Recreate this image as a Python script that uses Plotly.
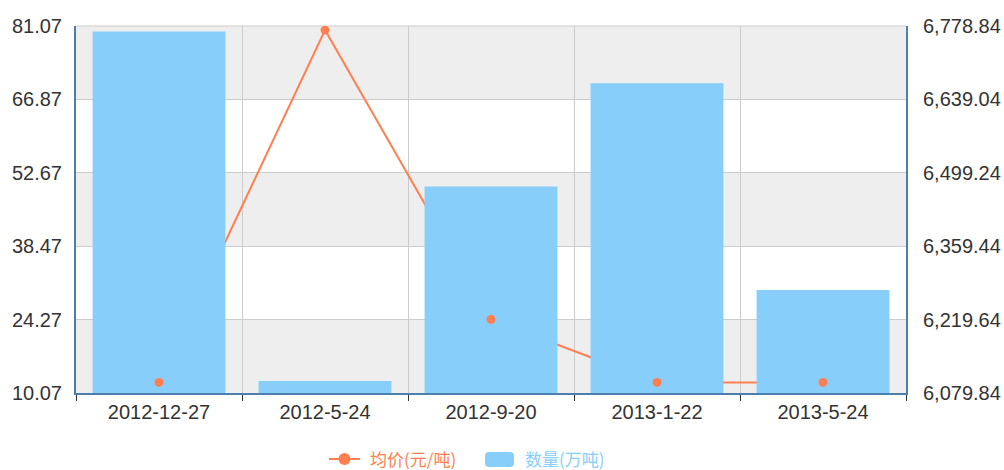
import plotly.graph_objects as go

categories = ["2012-12-27", "2012-5-24", "2012-9-20", "2013-1-22", "2013-5-24"]
price = [6100, 6771, 6220, 6100, 6100]          # 均价(元/吨), right axis
quantity = [80.0, 12.4, 50.0, 70.0, 30.0]      # 数量(万吨), left axis

left_ticks = [10.07, 24.27, 38.47, 52.67, 66.87, 81.07]
right_ticks = [6079.84, 6219.64, 6359.44, 6499.24, 6639.04, 6778.84]

LINE_C = "#ff7f50"
BAR_C = "#87cefa"
AXIS_C = "#4a7fae"
FONT = "Liberation Sans, Arial, Noto Sans CJK SC"
TICK_FONT = dict(size=20, color="#333333", family=FONT)

PW, PH = 830, 367  # plot area size in px

fig = go.Figure()

# line (behind bars) on yaxis (right side)
fig.add_trace(go.Scatter(x=categories, y=price, mode="lines", yaxis="y",
                         line=dict(color=LINE_C, width=2), name="均价(元/吨)",
                         showlegend=False, hoverinfo="skip"))
# bars on yaxis2 (left side), overlaying -> drawn above line
fig.add_trace(go.Bar(x=categories, y=quantity, yaxis="y2", marker=dict(color=BAR_C, line=dict(width=0)),
                     name="数量(万吨)", showlegend=False))
# dots on top of bars
fig.add_trace(go.Scatter(x=categories, y=price, mode="markers", yaxis="y3",
                         marker=dict(color=LINE_C, size=9), name="均价(元/吨)", showlegend=False))

# split areas (alternating bands)
shapes = []
for i in range(len(left_ticks) - 1):
    if i % 2 == 0:
        shapes.append(dict(type="rect", xref="paper", yref="y2", x0=0, x1=1,
                           y0=left_ticks[i], y1=left_ticks[i + 1],
                           fillcolor="rgba(200,200,200,0.3)", line=dict(width=0), layer="below"))
# top border
shapes.append(dict(type="line", xref="paper", yref="paper", x0=0, x1=1, y0=1, y1=1,
                   line=dict(color="#cccccc", width=1), layer="below"))

fig.update_layout(
    width=1004, height=470,
    margin=dict(l=76, r=98, t=26, b=77),
    paper_bgcolor="white", plot_bgcolor="white",
    font=dict(family=FONT, size=14, color="#333333"),
    bargap=0.2,
    showlegend=False,
    shapes=shapes,
    xaxis=dict(type="category", tickson="boundaries", showgrid=True, gridcolor="#cccccc",
               gridwidth=1, showline=True, linecolor=AXIS_C, linewidth=2,
               ticks="outside", ticklen=6, tickcolor="#333333", tickwidth=1,
               tickfont=TICK_FONT, zeroline=False, range=[-0.5, 4.5], automargin=False),
    yaxis=dict(side="right", range=[right_ticks[0], right_ticks[-1]], tickvals=right_ticks,
               tickformat=",.2f", showgrid=True, gridcolor="#cccccc", gridwidth=1,
               showline=True, linecolor=AXIS_C, linewidth=2, zeroline=False,
               ticks="", ticklabelstandoff=11, tickfont=TICK_FONT, automargin=False),
    yaxis2=dict(side="left", overlaying="y", range=[left_ticks[0], left_ticks[-1]],
                tickvals=left_ticks, tickformat=".2f", showgrid=False,
                showline=True, linecolor=AXIS_C, linewidth=2, zeroline=False,
                ticks="", ticklabelstandoff=8, tickfont=TICK_FONT, automargin=False),
    yaxis3=dict(overlaying="y", range=[right_ticks[0], right_ticks[-1]], visible=False,
                automargin=False),
)

# custom legend (coordinates in paper units of the plot area)
def px_x(x):  # page x -> paper
    return (x - 76) / PW

def px_y(y):  # page y -> paper
    return (393 - y) / PH

ly = 458
fig.add_shape(type="line", xref="paper", yref="paper",
              x0=px_x(329), x1=px_x(360), y0=px_y(ly + 1), y1=px_y(ly + 1),
              line=dict(color=LINE_C, width=2))
fig.add_shape(type="circle", xref="paper", yref="paper",
              x0=px_x(338.5), x1=px_x(350.5), y0=px_y(ly + 7), y1=px_y(ly - 5),
              fillcolor=LINE_C, line=dict(width=0))
fig.add_annotation(text="均价(元/吨)", xref="paper", yref="paper",
                   x=px_x(368), y=px_y(ly), xanchor="left", yanchor="middle",
                   showarrow=False, font=dict(size=17, color=LINE_C, family="Noto Sans CJK SC"))
# rounded legend box for bars
x0, x1, y0, y1, r = px_x(485), px_x(514), px_y(467), px_y(452), 4
rx, ry = r / PW, r / PH
path = (f"M {x0+rx},{y0} L {x1-rx},{y0} Q {x1},{y0} {x1},{y0+ry} L {x1},{y1-ry} "
        f"Q {x1},{y1} {x1-rx},{y1} L {x0+rx},{y1} Q {x0},{y1} {x0},{y1-ry} "
        f"L {x0},{y0+ry} Q {x0},{y0} {x0+rx},{y0} Z")
fig.add_shape(type="path", xref="paper", yref="paper", path=path,
              fillcolor=BAR_C, line=dict(width=0))
fig.add_annotation(text="数量(万吨)", xref="paper", yref="paper",
                   x=px_x(523), y=px_y(ly), xanchor="left", yanchor="middle",
                   showarrow=False, font=dict(size=17, color=BAR_C, family="Noto Sans CJK SC"))

fig.write_html("out.html", config={"displayModeBar": False},
               post_script="document.body.style.margin='0';document.body.style.overflow='hidden';")
